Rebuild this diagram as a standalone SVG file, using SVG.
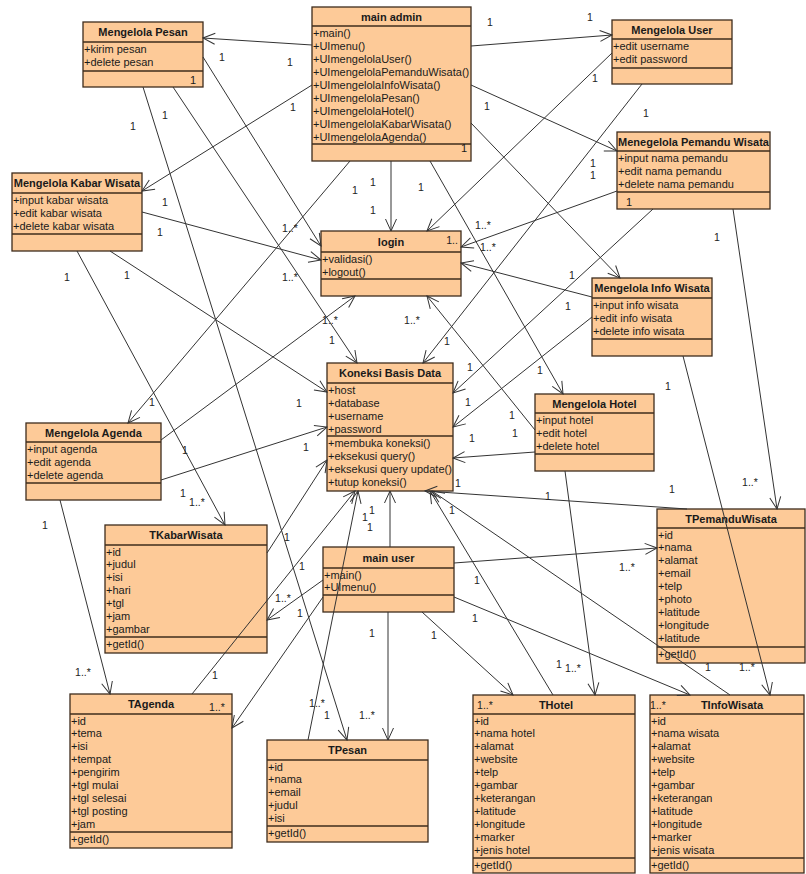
<svg xmlns="http://www.w3.org/2000/svg" width="806" height="874" viewBox="0 0 806 874">
<defs>
<style>
.box{fill:#FDCA98;stroke:#3e2c1c;stroke-width:1.3}
.sep{stroke:#3e2c1c;stroke-width:1.3}
.t{font-family:"Liberation Sans",Arial,sans-serif;font-size:11px;font-weight:bold;text-anchor:middle;fill:#1a1a1a}
.a{font-family:"Liberation Sans",Arial,sans-serif;font-size:11px;fill:#1a1a1a}
.m{font-family:"Liberation Sans",Arial,sans-serif;font-size:10.5px;text-anchor:middle;fill:#222}
.c{fill:none;stroke:#333;stroke-width:1;marker-end:url(#open)}
</style>
<marker id="open" markerUnits="userSpaceOnUse" markerWidth="14" markerHeight="14" viewBox="0 0 14 14" refX="13" refY="7" orient="auto">
<path d="M1,1.5 L13,7 L1,12.5" fill="none" stroke="#333" stroke-width="1"/>
</marker>
</defs>
<rect width="806" height="874" fill="#ffffff"/>

<!-- classes -->
<g id="mengelola-pesan">
<rect class="box" x="83" y="22" width="120" height="65"/>
<line class="sep" x1="83" y1="42" x2="203" y2="42"/><line class="sep" x1="83" y1="71" x2="203" y2="71"/>
<text class="t" x="143" y="36">Mengelola Pesan</text>
<text class="a" x="84" y="53">+kirim pesan</text>
<text class="a" x="84" y="66">+delete pesan</text>
<text class="a" x="190" y="84">1</text>
</g>

<g id="main-admin">
<rect class="box" x="312" y="7" width="159" height="154"/>
<line class="sep" x1="312" y1="26" x2="471" y2="26"/><line class="sep" x1="312" y1="144" x2="471" y2="144"/>
<text class="t" x="391.5" y="21">main admin</text>
<text class="a" x="313" y="37">+main()</text>
<text class="a" x="313" y="50">+UImenu()</text>
<text class="a" x="313" y="63">+UImengelolaUser()</text>
<text class="a" x="313" y="76">+UImengelolaPemanduWisata()</text>
<text class="a" x="313" y="89">+UImengelolaInfoWisata()</text>
<text class="a" x="313" y="102">+UImengelolaPesan()</text>
<text class="a" x="313" y="115">+UImengelolaHotel()</text>
<text class="a" x="313" y="128">+UImengelolaKabarWisata()</text>
<text class="a" x="313" y="141">+UImengelolaAgenda()</text>
<text class="a" x="461" y="152">1</text>
</g>

<g id="mengelola-user">
<rect class="box" x="612" y="20" width="120" height="64"/>
<line class="sep" x1="612" y1="39" x2="732" y2="39"/><line class="sep" x1="612" y1="68" x2="732" y2="68"/>
<text class="t" x="672" y="34">Mengelola User</text>
<text class="a" x="613" y="50">+edit username</text>
<text class="a" x="613" y="63">+edit password</text>
</g>

<g id="mengelola-pemandu-wisata">
<rect class="box" x="617" y="132" width="153" height="77"/>
<line class="sep" x1="617" y1="151" x2="770" y2="151"/><line class="sep" x1="617" y1="192" x2="770" y2="192"/>
<text class="t" x="693.5" y="146">Menegelola Pemandu Wisata</text>
<text class="a" x="618" y="162">+input nama pemandu</text>
<text class="a" x="618" y="175">+edit nama pemandu</text>
<text class="a" x="618" y="188">+delete nama pemandu</text>
<text class="a" x="626" y="206">1</text>
</g>

<g id="mengelola-kabar-wisata">
<rect class="box" x="12" y="173" width="130" height="78"/>
<line class="sep" x1="12" y1="193" x2="142" y2="193"/><line class="sep" x1="12" y1="234" x2="142" y2="234"/>
<text class="t" x="77" y="187">Mengelola Kabar Wisata</text>
<text class="a" x="13" y="204">+input kabar wisata</text>
<text class="a" x="13" y="217">+edit kabar wisata</text>
<text class="a" x="13" y="230">+delete kabar wisata</text>
</g>

<g id="login">
<rect class="box" x="321" y="231" width="140" height="65"/>
<line class="sep" x1="321" y1="252" x2="461" y2="252"/><line class="sep" x1="321" y1="279" x2="461" y2="279"/>
<text class="t" x="391" y="246">login</text>
<text class="a" x="322" y="263">+validasi()</text>
<text class="a" x="322" y="276">+logout()</text>
</g>

<g id="mengelola-info-wisata">
<rect class="box" x="592" y="278" width="120" height="78"/>
<line class="sep" x1="592" y1="298" x2="712" y2="298"/><line class="sep" x1="592" y1="339" x2="712" y2="339"/>
<text class="t" x="652" y="292">Mengelola Info Wisata</text>
<text class="a" x="593" y="309">+input info wisata</text>
<text class="a" x="593" y="322">+edit info wisata</text>
<text class="a" x="593" y="335">+delete info wisata</text>
</g>

<g id="koneksi-basis-data">
<rect class="box" x="327" y="363" width="126" height="128"/>
<line class="sep" x1="327" y1="383" x2="453" y2="383"/><line class="sep" x1="327" y1="436" x2="453" y2="436"/>
<text class="t" x="390" y="377">Koneksi Basis Data</text>
<text class="a" x="328" y="394">+host</text>
<text class="a" x="328" y="407">+database</text>
<text class="a" x="328" y="420">+username</text>
<text class="a" x="328" y="433">+password</text>
<text class="a" x="328" y="447">+membuka koneksi()</text>
<text class="a" x="328" y="460">+eksekusi query()</text>
<text class="a" x="328" y="473">+eksekusi query update()</text>
<text class="a" x="328" y="486">+tutup koneksi()</text>
</g>

<g id="mengelola-hotel">
<rect class="box" x="535" y="394" width="119" height="77"/>
<line class="sep" x1="535" y1="413" x2="654" y2="413"/><line class="sep" x1="535" y1="454" x2="654" y2="454"/>
<text class="t" x="594.5" y="408">Mengelola Hotel</text>
<text class="a" x="536" y="424">+input hotel</text>
<text class="a" x="536" y="437">+edit hotel</text>
<text class="a" x="536" y="450">+delete hotel</text>
</g>

<g id="mengelola-agenda">
<rect class="box" x="26" y="423" width="135" height="77"/>
<line class="sep" x1="26" y1="442" x2="161" y2="442"/><line class="sep" x1="26" y1="483" x2="161" y2="483"/>
<text class="t" x="93.5" y="437">Mengelola Agenda</text>
<text class="a" x="27" y="453">+input agenda</text>
<text class="a" x="27" y="466">+edit agenda</text>
<text class="a" x="27" y="479">+delete agenda</text>
</g>

<g id="tkabarwisata">
<rect class="box" x="105" y="525" width="162" height="128"/>
<line class="sep" x1="105" y1="545" x2="267" y2="545"/><line class="sep" x1="105" y1="637" x2="267" y2="637"/>
<text class="t" x="186" y="539">TKabarWisata</text>
<text class="a" x="106" y="555.5">+id</text>
<text class="a" x="106" y="568.4">+judul</text>
<text class="a" x="106" y="581.3">+isi</text>
<text class="a" x="106" y="594.2">+hari</text>
<text class="a" x="106" y="607.1">+tgl</text>
<text class="a" x="106" y="620">+jam</text>
<text class="a" x="106" y="632.9">+gambar</text>
<text class="a" x="106" y="648">+getId()</text>
</g>

<g id="tpemanduwisata">
<rect class="box" x="657" y="509" width="148" height="154"/>
<line class="sep" x1="657" y1="528" x2="805" y2="528"/><line class="sep" x1="657" y1="647" x2="805" y2="647"/>
<text class="t" x="731" y="523">TPemanduWisata</text>
<text class="a" x="658" y="538.5">+id</text>
<text class="a" x="658" y="551.4">+nama</text>
<text class="a" x="658" y="564.3">+alamat</text>
<text class="a" x="658" y="577.2">+email</text>
<text class="a" x="658" y="590.1">+telp</text>
<text class="a" x="658" y="603">+photo</text>
<text class="a" x="658" y="615.9">+latitude</text>
<text class="a" x="658" y="628.8">+longitude</text>
<text class="a" x="658" y="641.7">+latitude</text>
<text class="a" x="658" y="658">+getId()</text>
</g>

<g id="main-user">
<rect class="box" x="323" y="547" width="131" height="65"/>
<line class="sep" x1="323" y1="568" x2="454" y2="568"/><line class="sep" x1="323" y1="595" x2="454" y2="595"/>
<text class="t" x="388.5" y="562">main user</text>
<text class="a" x="324" y="578.5">+main()</text>
<text class="a" x="324" y="591.4">+UImenu()</text>
</g>

<g id="tagenda">
<rect class="box" x="70" y="694" width="162" height="154"/>
<line class="sep" x1="70" y1="714" x2="232" y2="714"/><line class="sep" x1="70" y1="832" x2="232" y2="832"/>
<text class="t" x="151" y="708">TAgenda</text>
<text class="a" x="71" y="724.5">+id</text>
<text class="a" x="71" y="737.4">+tema</text>
<text class="a" x="71" y="750.3">+isi</text>
<text class="a" x="71" y="763.2">+tempat</text>
<text class="a" x="71" y="776.1">+pengirim</text>
<text class="a" x="71" y="789">+tgl mulai</text>
<text class="a" x="71" y="801.9">+tgl selesai</text>
<text class="a" x="71" y="814.8">+tgl posting</text>
<text class="a" x="71" y="827.7">+jam</text>
<text class="a" x="71" y="843">+getId()</text>
</g>

<g id="tpesan">
<rect class="box" x="267" y="740" width="161" height="102"/>
<line class="sep" x1="267" y1="760" x2="428" y2="760"/><line class="sep" x1="267" y1="826" x2="428" y2="826"/>
<text class="t" x="347.5" y="754">TPesan</text>
<text class="a" x="268" y="770.5">+id</text>
<text class="a" x="268" y="783.4">+nama</text>
<text class="a" x="268" y="796.3">+email</text>
<text class="a" x="268" y="809.2">+judul</text>
<text class="a" x="268" y="822.1">+isi</text>
<text class="a" x="268" y="837">+getId()</text>
</g>

<g id="thotel">
<rect class="box" x="473" y="695" width="162" height="178"/>
<line class="sep" x1="473" y1="714" x2="635" y2="714"/><line class="sep" x1="473" y1="858" x2="635" y2="858"/>
<text class="t" x="556" y="709">THotel</text>
<text class="a" x="474" y="724.5">+id</text>
<text class="a" x="474" y="737.4">+nama hotel</text>
<text class="a" x="474" y="750.3">+alamat</text>
<text class="a" x="474" y="763.2">+website</text>
<text class="a" x="474" y="776.1">+telp</text>
<text class="a" x="474" y="789">+gambar</text>
<text class="a" x="474" y="801.9">+keterangan</text>
<text class="a" x="474" y="814.8">+latitude</text>
<text class="a" x="474" y="827.7">+longitude</text>
<text class="a" x="474" y="840.6">+marker</text>
<text class="a" x="474" y="853.5">+jenis hotel</text>
<text class="a" x="474" y="868.5">+getId()</text>
</g>

<g id="tinfowisata">
<rect class="box" x="650" y="695" width="154" height="178"/>
<line class="sep" x1="650" y1="714" x2="804" y2="714"/><line class="sep" x1="650" y1="858" x2="804" y2="858"/>
<text class="t" x="732" y="709">TInfoWisata</text>
<text class="a" x="651" y="724.5">+id</text>
<text class="a" x="651" y="737.4">+nama wisata</text>
<text class="a" x="651" y="750.3">+alamat</text>
<text class="a" x="651" y="763.2">+website</text>
<text class="a" x="651" y="776.1">+telp</text>
<text class="a" x="651" y="789">+gambar</text>
<text class="a" x="651" y="801.9">+keterangan</text>
<text class="a" x="651" y="814.8">+latitude</text>
<text class="a" x="651" y="827.7">+longitude</text>
<text class="a" x="651" y="840.6">+marker</text>
<text class="a" x="651" y="853.5">+jenis wisata</text>
<text class="a" x="651" y="868.5">+getId()</text>
</g>

<!-- associations -->
<g id="connectors">
<!-- main admin -->
<path class="c" d="M312,45 L203,38"/>
<path class="c" d="M471,46 L612,35"/>
<path class="c" d="M312,85 L142,191"/>
<path class="c" d="M391,161 L391,231"/>
<path class="c" d="M471,85 L617,151"/>
<path class="c" d="M471,123 L620,278"/>
<path class="c" d="M430,161 L563,394"/>
<path class="c" d="M350,161 L128,423"/>
<!-- Mengelola Pesan -->
<path class="c" d="M203,57 L321,246"/>
<path class="c" d="M173,87 L357,363"/>
<path class="c" d="M143,87 L347,740"/>
<!-- Mengelola Kabar Wisata -->
<path class="c" d="M142,212 L321,260"/>
<path class="c" d="M110,251 L327,392"/>
<path class="c" d="M77,251 L225,525"/>
<!-- Mengelola User -->
<path class="c" d="M612,53 L427,231"/>
<path class="c" d="M642,84 L423,363"/>
<!-- Menegelola Pemandu Wisata -->
<path class="c" d="M617,191 L461,247"/>
<path class="c" d="M653,209 L453,393"/>
<path class="c" d="M733,209 L777,509"/>
<!-- Mengelola Info Wisata -->
<path class="c" d="M592,297 L461,263"/>
<path class="c" d="M592,317 L453,427"/>
<path class="c" d="M683,356 L770,695"/>
<!-- Mengelola Hotel -->
<path class="c" d="M535,430 L427,296"/>
<path class="c" d="M535,452 L453,458"/>
<path class="c" d="M565,471 L595,695"/>
<!-- Mengelola Agenda -->
<path class="c" d="M161,440 L355,296"/>
<path class="c" d="M161,480 L327,427"/>
<path class="c" d="M60,500 L110,694"/>
<!-- tables to Koneksi Basis Data -->
<path class="c" d="M267,553 L327,460"/>
<path class="c" d="M192,694 L355,491"/>
<path class="c" d="M308,740 L358,491"/>
<path class="c" d="M553,695 L430,491"/>
<path class="c" d="M730,695 L432,491"/>
<path class="c" d="M687,509 L425,491"/>
<path class="c" d="M390,547 L390,491"/>
<!-- main user -->
<path class="c" d="M454,563 L657,548"/>
<path class="c" d="M323,580 L267,620"/>
<path class="c" d="M323,597 L232,728"/>
<path class="c" d="M388,612 L388,740"/>
<path class="c" d="M422,612 L513,695"/>
<path class="c" d="M454,597 L690,695"/>

<g id="multiplicities">
<text class="m" x="222" y="61">1</text>
<text class="m" x="290" y="66">1</text>
<text class="m" x="490" y="26">1</text>
<text class="m" x="590" y="21">1</text>
<text class="m" x="293" y="111">1</text>
<text class="m" x="165" y="119">1</text>
<text class="m" x="133" y="130">1</text>
<text class="m" x="487" y="110">1</text>
<text class="m" x="646" y="117">1</text>
<text class="m" x="165" y="206">1</text>
<text class="m" x="160" y="236">1</text>
<text class="m" x="67" y="281">1</text>
<text class="m" x="127" y="279">1</text>
<text class="m" x="373" y="186">1</text>
<text class="m" x="355" y="194">1</text>
<text class="m" x="421" y="191">1</text>
<text class="m" x="373" y="214">1</text>
<text class="m" x="595" y="82">1</text>
<text class="m" x="593" y="167">1</text>
<text class="m" x="593" y="179">1</text>
<text class="m" x="717" y="241">1</text>
<text class="m" x="572" y="279">1</text>
<text class="m" x="568" y="310">1</text>
<text class="m" x="540" y="374">1</text>
<text class="m" x="447" y="345">1</text>
<text class="m" x="332" y="344">1</text>
<text class="m" x="470" y="371">1</text>
<text class="m" x="299" y="407">1</text>
<text class="m" x="468" y="406">1</text>
<text class="m" x="512" y="419">1</text>
<text class="m" x="515" y="437">1</text>
<text class="m" x="472" y="442">1</text>
<text class="m" x="306" y="451">1</text>
<text class="m" x="152" y="406">1</text>
<text class="m" x="185" y="454">1</text>
<text class="m" x="183" y="497">1</text>
<text class="m" x="45" y="529">1</text>
<text class="m" x="458" y="487">1</text>
<text class="m" x="372" y="514">1</text>
<text class="m" x="365" y="521">1</text>
<text class="m" x="370" y="531">1</text>
<text class="m" x="452" y="514">1</text>
<text class="m" x="548" y="500">1</text>
<text class="m" x="672" y="493">1</text>
<text class="m" x="668" y="390">1</text>
<text class="m" x="287" y="541">1</text>
<text class="m" x="302" y="570">1</text>
<text class="m" x="300" y="617">1</text>
<text class="m" x="477" y="584">1</text>
<text class="m" x="475" y="622">1</text>
<text class="m" x="372" y="637">1</text>
<text class="m" x="434" y="639">1</text>
<text class="m" x="215" y="679">1</text>
<text class="m" x="327" y="719">1</text>
<text class="m" x="708" y="671">1</text>
<text class="m" x="559" y="668">1</text>
<text class="m" x="290" y="281">1..*</text>
<text class="m" x="290" y="232">1..*</text>
<text class="m" x="330" y="324">1..*</text>
<text class="m" x="412" y="324">1..*</text>
<text class="m" x="483" y="229">1..*</text>
<text class="m" x="488" y="251">1..*</text>
<text class="m" x="197" y="506">1..*</text>
<text class="m" x="83" y="676">1..*</text>
<text class="m" x="283" y="602">1..*</text>
<text class="m" x="317" y="707">1..*</text>
<text class="m" x="367" y="719">1..*</text>
<text class="m" x="627" y="571">1..*</text>
<text class="m" x="573" y="672">1..*</text>
<text class="m" x="747" y="671">1..*</text>
<text class="m" x="750" y="486">1..*</text>
<text class="m" x="217" y="711">1..*</text>
<text class="m" x="485" y="709">1..*</text>
<text class="m" x="658" y="709">1..*</text>
<text class="m" x="452" y="244">1..</text>
</g>
</g>
</svg>
